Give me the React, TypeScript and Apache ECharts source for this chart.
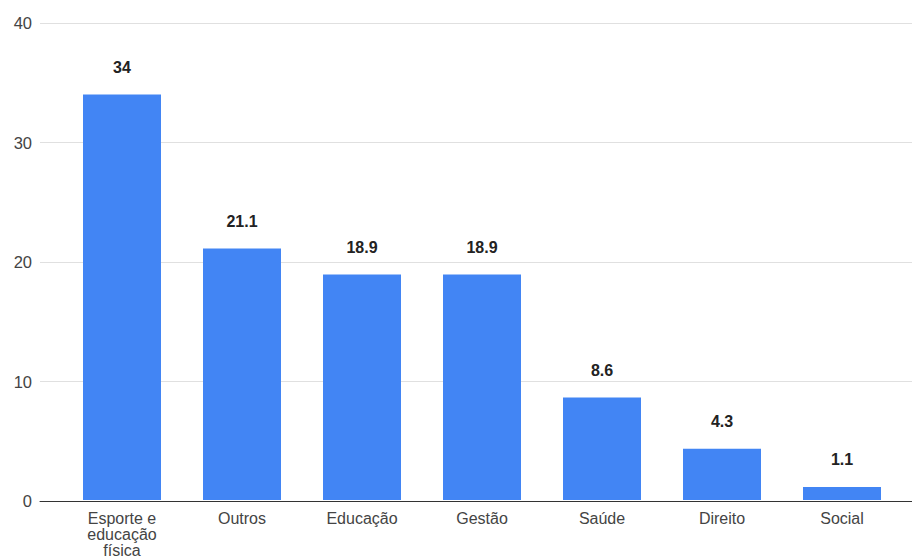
import React, { useEffect, useRef } from "react";
import * as echarts from "echarts";

const categories = ["Esporte e\neducação\nfísica", "Outros", "Educação", "Gestão", "Saúde", "Direito", "Social"];
const values = [34, 21.1, 18.9, 18.9, 8.6, 4.3, 1.1];
const yTicks = [0, 10, 20, 30, 40];

const FONT = "'Liberation Sans', Arial, sans-serif";

export default function App() {
  const ref = useRef<HTMLDivElement>(null);
  useEffect(() => {
    if (!ref.current) return;
    const chart = echarts.init(ref.current, undefined, { renderer: "svg" });
    const yMax = yTicks[yTicks.length - 1];
    chart.setOption({
      animation: false,
      textStyle: { fontFamily: FONT },
      grid: [
        { left: 40, right: 0, top: 23, bottom: 57 },
        { left: 62, right: 10, top: 23, bottom: 57 },
      ],
      xAxis: [
        {
          type: "category",
          gridIndex: 0,
          data: [""],
          axisLine: { show: true, lineStyle: { color: "#333", width: 1 } },
          axisTick: { show: false },
          axisLabel: { show: false },
        },
        {
          type: "category",
          gridIndex: 1,
          data: categories,
          axisLine: { show: false },
          axisTick: { show: false },
          axisLabel: {
            color: "#444",
            fontSize: 16,
            margin: 10,
            lineHeight: 16,
            interval: 0,
            fontFamily: FONT,
          },
        },
      ],
      yAxis: [
        {
          type: "value",
          gridIndex: 0,
          min: 0,
          max: yMax,
          interval: 10,
          axisLine: { show: false },
          axisTick: { show: false },
          axisLabel: { color: "#444", fontSize: 16.5, margin: 8, fontFamily: FONT },
          splitLine: { lineStyle: { color: "#e0e0e0", width: 1 } },
        },
        {
          type: "value",
          gridIndex: 1,
          min: 0,
          max: yMax,
          interval: 10,
          show: false,
          splitLine: { show: false },
        },
      ],
      series: [
        {
          type: "bar",
          xAxisIndex: 1,
          yAxisIndex: 1,
          data: values,
          barWidth: "65%",
          itemStyle: { color: "#4285F4" },
          label: {
            show: true,
            position: "top",
            distance: 19,
            color: "#222",
            fontSize: 16,
            fontWeight: "bold",
            fontFamily: FONT,
          },
        },
      ],
    });
    return () => chart.dispose();
  }, []);
  return <div ref={ref} style={{ width: 912, height: 558, position: "absolute", left: 0, top: 0 }} />;
}
